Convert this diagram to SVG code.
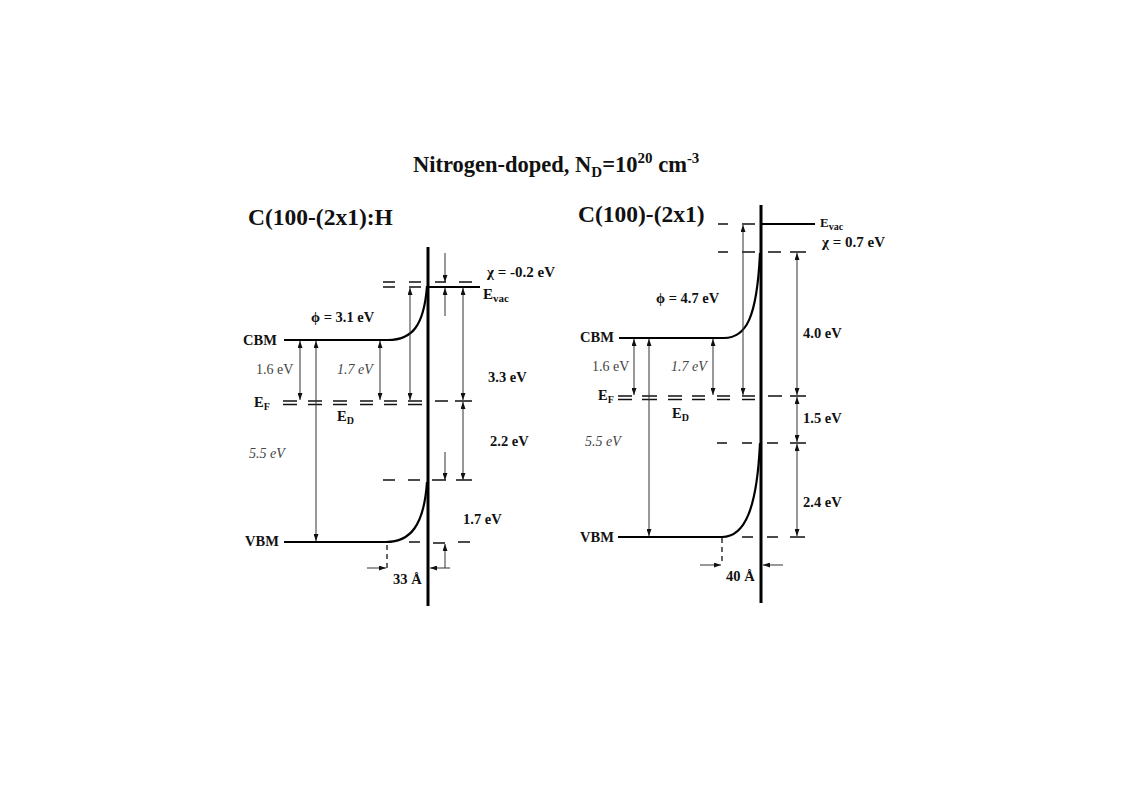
<svg xmlns="http://www.w3.org/2000/svg" width="1123" height="794" viewBox="0 0 1123 794">
<style>
text{font-family:"Liberation Serif","Times New Roman",serif;fill:#111}
.b{font-weight:bold;font-size:14.5px}
.r{font-size:14px;fill:#444}
.i{font-size:14px;font-style:italic;fill:#444}
.h{font-weight:bold;font-size:23.5px}
.surf{stroke:#000;stroke-width:3;fill:none}
.band{stroke:#000;stroke-width:2.2;fill:none}
.d{stroke:#111;stroke-width:1.3;fill:none}
.a{stroke:#333;stroke-width:1;fill:none}
.ab{stroke:#333;stroke-width:1;fill:none;marker-end:url(#ah)}
.a2{stroke:#333;stroke-width:1;fill:none;marker-start:url(#ah);marker-end:url(#ah)}
.vd{stroke:#111;stroke-width:1.3;stroke-dasharray:5 4;fill:none}
</style>
<defs>
<marker id="ah" viewBox="0 0 7 5" refX="7" refY="2.5" markerWidth="7" markerHeight="5" markerUnits="userSpaceOnUse" orient="auto-start-reverse">
<path d="M0,0 L7,2.5 L0,5 z" fill="#111"/>
</marker>
</defs>
<rect width="1123" height="794" fill="#fff"/>
<g id="title">
<text class="h" x="413" y="172" style="font-size:22.5px">Nitrogen-doped, N<tspan dy="5" font-size="15">D</tspan><tspan dy="-5">=10</tspan><tspan dy="-9" font-size="15">20</tspan><tspan dy="9"> cm</tspan><tspan dy="-9" font-size="15">-3</tspan></text>
</g>
<g id="left-diagram">
<text class="h" x="248" y="225">C(100-(2x1):H</text>
<line class="surf" x1="428" y1="247" x2="428" y2="606"/>
<path class="band" d="M284,340 L388,340 C412,340 424,326 427,286"/>
<path class="band" d="M284,542 L386,542 C410,542 424,526 427,482"/>
<line class="band" x1="428" y1="287" x2="480" y2="287"/>
<g id="left-dashes">
<path class="d" d="M383,282H395M409,282H421M435,282H446M459,282H472M383,287H395M409,287H421"/>
<path class="d" d="M283,401H297M308,401H322M333,401H347M360,401H373M384,401H397M408,401H422M283,404.5H297M308,404.5H322M333,404.5H347M360,404.5H373M384,404.5H397M408,404.5H422M435,401H448M455,401H472"/>
<path class="d" d="M383,480H395M408,480H420M432,480H446M456,480H472"/>
<path class="d" d="M409,542H420M433,543H445M458,542H470"/>
</g>
<g id="left-arrows">
<line class="ab" x1="445" y1="253" x2="445" y2="282"/>
<line class="ab" x1="445" y1="316" x2="445" y2="288"/>
<line class="a2" x1="410" y1="288" x2="410" y2="400"/>
<line class="a2" x1="463" y1="288" x2="463" y2="400"/>
<line class="a2" x1="463" y1="402" x2="463" y2="480"/>
<line class="ab" x1="445" y1="452" x2="445" y2="480"/>
<line class="ab" x1="445" y1="568" x2="445" y2="544"/>
<line class="a2" x1="300" y1="341" x2="300" y2="400"/>
<line class="a2" x1="380" y1="341" x2="380" y2="400"/>
<line class="a2" x1="316" y1="341" x2="316" y2="541"/>
<line class="ab" x1="367" y1="568" x2="386" y2="568"/>
<line class="ab" x1="450" y1="568" x2="430" y2="568"/>
<line class="vd" x1="387" y1="545" x2="387" y2="572"/>
</g>
<g id="left-labels">
<text class="b" x="243" y="345">CBM</text>
<text class="b" x="245" y="546">VBM</text>
<text class="r" x="256" y="374">1.6 eV</text>
<text class="i" x="337" y="374">1.7 eV</text>
<text class="b" x="254" y="407">E<tspan dy="3" font-size="10">F</tspan></text>
<text class="b" x="337" y="421">E<tspan dy="3" font-size="10">D</tspan></text>
<text class="i" x="249" y="458">5.5 eV</text>
<text class="b" x="311" y="322">ϕ = 3.1 eV</text>
<text class="b" x="487" y="277" style="font-size:15px">χ = -0.2 eV</text>
<text class="b" x="483" y="299" style="font-size:15px">E<tspan dy="3" font-size="11">vac</tspan></text>
<text class="b" x="488" y="382">3.3 eV</text>
<text class="b" x="490" y="446">2.2 eV</text>
<text class="b" x="463" y="524">1.7 eV</text>
<text class="b" x="393" y="584">33 Å</text>
</g>
</g>
<g id="right-diagram">
<text class="h" x="578" y="222">C(100)-(2x1)</text>
<line class="surf" x1="761" y1="205" x2="761" y2="603"/>
<path class="band" d="M619,338 L724,338 C746,338 757,318 760,253"/>
<path class="band" d="M618,537 L722,537 C745,537 757,508 760,443"/>
<line class="band" x1="761" y1="224" x2="815" y2="224"/>
<g id="right-dashes">
<path class="d" d="M718,224H728M742,224H755"/>
<path class="d" d="M718,252H728M742,252H755M768,252H781M790,252H806"/>
<path class="d" d="M618,396H632M642,396H657M668,396H682M692,396H705M717,396H730M742,396H755M618,399.5H632M642,399.5H657M668,399.5H682M692,399.5H705M717,399.5H730M742,399.5H755M768,396H782M790,396H806"/>
<path class="d" d="M717,443H727M742,443H752M767,443H778M790,443H806"/>
<path class="d" d="M742,537H753M767,537H778M790,537H805"/>
</g>
<g id="right-arrows">
<line class="a2" x1="634" y1="339" x2="634" y2="395"/>
<line class="a2" x1="713" y1="339" x2="713" y2="395"/>
<line class="a2" x1="649" y1="339" x2="649" y2="536"/>
<line class="a2" x1="743" y1="225" x2="743" y2="395"/>
<line class="a2" x1="797" y1="253" x2="797" y2="395"/>
<line class="a2" x1="797" y1="397" x2="797" y2="442"/>
<line class="a2" x1="797" y1="444" x2="797" y2="536"/>
<line class="ab" x1="700" y1="565" x2="721" y2="565"/>
<line class="ab" x1="783" y1="565" x2="763" y2="565"/>
<line class="vd" x1="722" y1="538" x2="722" y2="562"/>
</g>
<g id="right-labels">
<text class="b" x="580" y="342">CBM</text>
<text class="b" x="580" y="542">VBM</text>
<text class="r" x="592" y="371">1.6 eV</text>
<text class="i" x="671" y="371">1.7 eV</text>
<text class="b" x="598" y="400">E<tspan dy="3" font-size="10">F</tspan></text>
<text class="b" x="672" y="418">E<tspan dy="3" font-size="10">D</tspan></text>
<text class="i" x="585" y="446">5.5 eV</text>
<text class="b" x="656" y="303">ϕ = 4.7 eV</text>
<text class="b" x="820" y="227" style="font-size:13px">E<tspan dy="3" font-size="10">vac</tspan></text>
<text class="b" x="822" y="247" style="font-size:15px">χ = 0.7 eV</text>
<text class="b" x="803" y="338">4.0 eV</text>
<text class="b" x="803" y="423">1.5 eV</text>
<text class="b" x="803" y="507">2.4 eV</text>
<text class="b" x="726" y="581">40 Å</text>
</g>
</g>
</svg>
